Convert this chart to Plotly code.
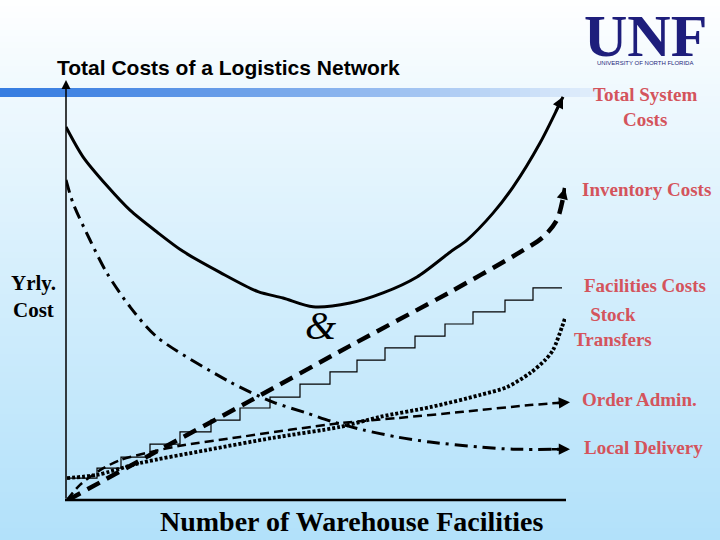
import plotly.graph_objects as go

# ---------------- data (x: facilities scale 0-100, y: yearly cost 0-100) -------------
total_x = [0, 3.4, 8.2, 12.8, 18.2, 23.4, 30.8, 38.4, 43.4, 49.4, 56.8, 63.4, 70.2, 76.8, 80.2, 85.4, 89.4, 94.8, 99.4]
total_y = [88.8, 81.7, 74.8, 69.0, 63.8, 59.2, 54.2, 49.6, 48.1, 46.0, 46.9, 49.3, 53.1, 59.0, 61.9, 68.3, 74.5, 85.0, 96.0]

inv_x = [0.4, 16.8, 36.8, 56.8, 76.8, 90.8, 95.4, 98.2, 99.8]
inv_y = [0.0, 10.7, 23.6, 36.7, 49.5, 59.0, 62.6, 66.7, 74.3]

fac_x = [0.2, 6.2, 11.0, 16.8, 22.8, 29.0, 34.8, 40.8, 46.8, 52.8, 58.2, 63.8, 69.8, 75.8, 81.4, 87.8, 93.4, 99.2]
fac_y = [5.2, 7.6, 10.2, 13.3, 16.2, 19.0, 21.9, 24.5, 27.6, 30.5, 33.3, 36.2, 39.0, 41.9, 44.8, 47.6, 50.5, 50.5]

stock_x = [0.2, 6.2, 14.8, 28.2, 41.4, 54.8, 62.8, 72.8, 82.8, 88.2, 92.8, 95.8, 97.4, 99.2, 99.8]
stock_y = [5.2, 6.0, 8.8, 11.9, 14.8, 17.4, 19.8, 22.1, 25.0, 26.9, 30.2, 33.3, 35.7, 41.2, 43.3]

order_x = [0.2, 2.8, 6.8, 10.8, 16.8, 22.8, 34.8, 54.8, 66.2, 79.4, 92.8, 100.8]
order_y = [0.0, 3.6, 7.1, 9.5, 11.4, 12.9, 15.0, 18.3, 19.5, 21.0, 22.6, 23.3]

local_x = [0, 1.4, 4.8, 8.2, 12.8, 18.2, 32.8, 41.4, 48.2, 53.4, 59.4, 66.2, 72.8, 82.8, 89.4, 100.8]
local_y = [76.2, 70.7, 61.9, 54.0, 46.0, 38.8, 28.1, 23.3, 20.7, 18.6, 16.7, 15.0, 13.8, 12.6, 12.1, 12.1]

labels = ["Total System<br>Costs", "Inventory Costs", "Facilities Costs",
          "Stock<br>Transfers", "Order Admin.", "Local Delivery"]

title_text = "Total Costs of a Logistics Network"
x_title = "Number of Warehouse Facilities"
y_title = "Yrly.<br>Cost"

# ---------------- layout geometry ----------------
W, H = 720, 540
L, R, T, B = 66, 154, 80, 40
PW, PH = W - L - R, H - T - B


def px(xp):
    return (xp - L) / PW


def py(yp):
    return (H - B - yp) / PH


fig = go.Figure()

LABEL_RED = "#d4545c"
serif = "Liberation Serif, Times New Roman, serif"


def add_curve(x, y, dash, width, shape="spline", arrow=True):
    fig.add_trace(go.Scatter(
        x=x, y=y, mode="lines",
        line=dict(color="black", width=width, dash=dash, shape=shape,
                  smoothing=0.8 if shape == "spline" else None),
        hoverinfo="skip", showlegend=False))
    if arrow:
        tx, ty = x[-1], y[-1]
        sx, sy = x[-2], y[-2]
        fig.add_annotation(
            x=tx, y=ty, ax=tx + 0.35 * (sx - tx), ay=ty + 0.35 * (sy - ty),
            xref="x", yref="y", axref="x", ayref="y",
            text="", showarrow=True, arrowhead=2, arrowsize=0.9,
            arrowwidth=2.5, arrowcolor="black", standoff=0)


add_curve(total_x, total_y, "solid", 3)
add_curve(inv_x, inv_y, "14px,8px", 4.5)
add_curve(fac_x, fac_y, "solid", 1.2, shape="hv", arrow=False)
add_curve(stock_x, stock_y, "3px,2px", 3.8)
add_curve(order_x, order_y, "9px,5px", 2.5)
add_curve(local_x, local_y, "13px,6px,3px,6px", 3)

shapes = []
# background vertical gradient
top_c = (255, 255, 255)
bot_c = (178, 225, 250)
for i in range(0, H, 6):
    t = (i + 3) / H
    t = t ** 0.9
    c = tuple(round(top_c[k] + (bot_c[k] - top_c[k]) * t) for k in range(3))
    shapes.append(dict(type="rect", xref="paper", yref="paper",
                       x0=px(0), x1=px(W), y0=py(i + 6), y1=py(i),
                       fillcolor="rgb(%d,%d,%d)" % c, line=dict(width=0),
                       layer="below"))
# blue gradient bar under the title
c0 = (55, 125, 225)
c1 = (228, 240, 252)
for i in range(0, 600, 10):
    t = (i + 5) / 600
    t = t ** 1.3
    c = tuple(round(c0[k] + (c1[k] - c0[k]) * t) for k in range(3))
    shapes.append(dict(type="rect", xref="paper", yref="paper",
                       x0=px(i), x1=px(i + 10), y0=py(97), y1=py(88),
                       fillcolor="rgb(%d,%d,%d)" % c, line=dict(width=0),
                       layer="below"))
# x axis line
shapes.append(dict(type="line", xref="paper", yref="paper",
                   x0=px(65), x1=px(566), y0=0, y1=0,
                   line=dict(color="black", width=2.5)))
fig.update_layout(shapes=shapes)

# y axis with arrow
fig.add_annotation(x=0, y=1, xref="paper", yref="paper", ax=0, ay=PH,
                   text="", showarrow=True, arrowhead=2, arrowsize=1.2,
                   arrowwidth=1.5, arrowcolor="black", standoff=0)

# title
fig.add_annotation(x=px(55), y=py(67), xref="paper", yref="paper",
                   text=title_text, showarrow=False, xanchor="left", yanchor="middle",
                   font=dict(family="Liberation Sans, Arial, sans-serif", size=21,
                             color="black", weight="bold"))

# UNF logo text
fig.add_annotation(x=px(645), y=py(36), xref="paper", yref="paper",
                   text="UNF", showarrow=False, xanchor="center", yanchor="middle",
                   font=dict(family=serif, size=60, color="#1e1e7c", weight="bold"))
fig.add_annotation(x=px(645), y=py(63), xref="paper", yref="paper",
                   text="UNIVERSITY OF NORTH FLORIDA", showarrow=False,
                   xanchor="center", yanchor="middle",
                   font=dict(family="Liberation Sans Narrow, Liberation Sans, Arial", size=6,
                             color="#1e1e7c"))

# right-hand labels
label_pos = [(645, 107), (646, 189), (645, 285), (613, 327), (639, 399), (643, 447)]
for txt, (lx, ly) in zip(labels, label_pos):
    fig.add_annotation(x=px(lx), y=py(ly), xref="paper", yref="paper",
                       text=txt, showarrow=False, xanchor="center", yanchor="middle",
                       align="center",
                       font=dict(family=serif, size=19, color=LABEL_RED, weight="bold"))

# axis titles
fig.add_annotation(x=px(352), y=py(521), xref="paper", yref="paper",
                   text=x_title, showarrow=False, xanchor="center", yanchor="middle",
                   font=dict(family=serif, size=28, color="black", weight="bold"))
fig.add_annotation(x=px(33), y=py(296), xref="paper", yref="paper",
                   text=y_title, showarrow=False, xanchor="center", yanchor="middle",
                   align="center",
                   font=dict(family=serif, size=21, color="black", weight="bold"))

# ampersand
fig.add_annotation(x=px(320), y=py(325), xref="paper", yref="paper",
                   text="&", showarrow=False, xanchor="center", yanchor="middle",
                   font=dict(family=serif, size=40, color="black", style="italic"))

fig.update_layout(
    width=W, height=H,
    margin=dict(l=L, r=R, t=T, b=B),
    paper_bgcolor="white", plot_bgcolor="rgba(0,0,0,0)",
    xaxis=dict(range=[0, 100], visible=False, fixedrange=True),
    yaxis=dict(range=[0, 100], visible=False, fixedrange=True),
    showlegend=False,
)

fig.write_html("out.html", config={"displayModeBar": False},
               post_script="document.body.style.margin='0';document.body.style.padding='0';")
